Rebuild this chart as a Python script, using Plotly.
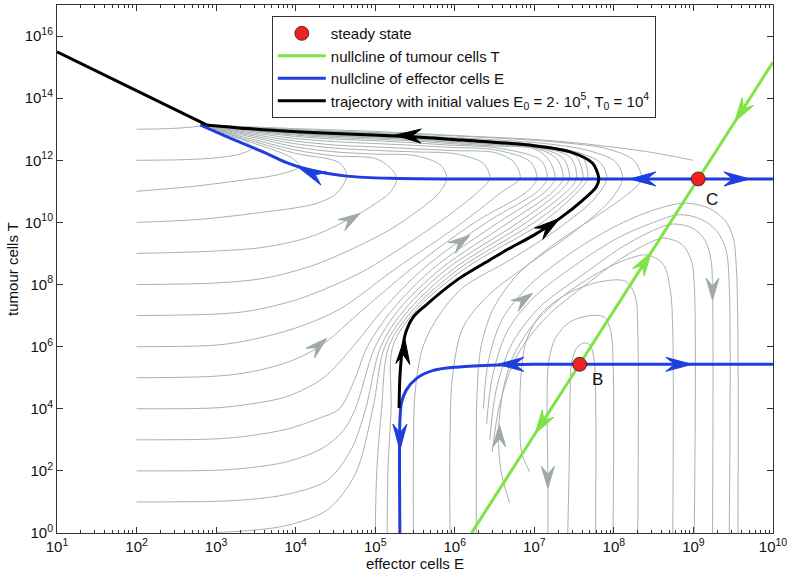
import math
import plotly.graph_objects as go

# ---------------- data (log10 of E and T) ----------------
x_tick_exp = [1, 2, 3, 4, 5, 6, 7, 8, 9, 10]
x_tick_text = ["10<sup>1</sup>", "10<sup>2</sup>", "10<sup>3</sup>", "10<sup>4</sup>", "10<sup>5</sup>",
               "10<sup>6</sup>", "10<sup>7</sup>", "10<sup>8</sup>", "10<sup>9</sup>", "10<sup>10</sup>"]
y_tick_exp = [0, 2, 4, 6, 8, 10, 12, 14, 16]
y_tick_text = ["10<sup>0</sup>", "10<sup>2</sup>", "10<sup>4</sup>", "10<sup>6</sup>", "10<sup>8</sup>",
               "10<sup>10</sup>", "10<sup>12</sup>", "10<sup>14</sup>", "10<sup>16</sup>"]

# steady states B and C
steady_logE = [7.57, 9.06]
steady_logT = [5.43, 11.40]
steady_names = ["B", "C"]
steady_label_shift = [(18, -15), (14, -21)]

# nullcline of tumour cells T (straight line in log-log)
green_logE = [6.21, 10.0]
green_logT = [0.0, 15.16]

# nullcline of effector cells E: upper branch and lower branch
blue_up_logE = [2.80, 3.17, 3.59, 3.87, 4.09, 4.37, 4.64, 5.18, 6.0, 10.0]
blue_up_logT = [13.14, 12.72, 12.27, 11.94, 11.75, 11.59, 11.49, 11.42, 11.40, 11.40]
blue_lo_logE = [5.31, 5.31, 5.33, 5.39, 5.52, 5.72, 6.02, 6.44, 7.0, 10.0]
blue_lo_logT = [0.0, 3.6, 4.2, 4.60, 4.98, 5.23, 5.34, 5.40, 5.43, 5.43]

# trajectory E0 = 2e5, T0 = 1e4
traj_logE = [5.30, 5.31, 5.34, 5.39, 5.48, 5.62, 6.03, 6.44, 6.65, 7.00, 7.32, 7.61, 7.78, 7.81,
             7.73, 7.44, 6.94, 6.10, 5.47, 4.43, 4.02, 3.40, 2.88]
traj_logT = [4.02, 5.0, 5.9, 6.5, 6.96, 7.3, 8.15, 8.79, 9.11, 9.60, 10.13, 10.72, 11.15, 11.43,
             11.91, 12.28, 12.49, 12.65, 12.76, 12.87, 12.92, 13.02, 13.14]
traj_tail_logE = [2.88, 1.0]
traj_tail_logT = [13.14, 15.49]

# grey stream lines (log10 E, log10 T)
s_g13 = ([2.0, 2.4, 2.7, 2.88], [13.0, 13.02, 13.07, 13.14])
s_g12 = ([2.0, 2.6, 3.0, 3.3, 3.45, 3.38, 3.15, 2.88], [12.0, 12.02, 12.08, 12.2, 12.39, 12.6, 12.88, 13.14])
s_g11 = ([2.0, 2.67, 3.3, 3.8, 4.05, 3.95, 3.5, 3.1, 2.88], [11.0, 11.15, 11.35, 11.55, 11.8, 12.08, 12.53, 12.86, 13.14])
s_g10 = ([2.0, 2.8, 3.5, 4.26, 4.52, 4.64, 4.55, 4.0, 3.5, 3.1, 2.88],
         [10.0, 10.1, 10.3, 10.61, 10.95, 11.5, 11.92, 12.22, 12.59, 12.89, 13.14])
s_g9 = ([2.0, 3.0, 3.6, 4.2, 4.72, 5.0, 5.2, 5.27, 5.18, 5.0, 4.5, 4.0, 3.5, 3.1, 2.88],
        [9.0, 9.08, 9.2, 9.55, 10.17, 10.6, 11.0, 11.42, 11.78, 12.06, 12.14, 12.33, 12.65, 12.92, 13.14])
s_g8 = ([2.0, 3.0, 3.6, 4.2, 4.68, 5.18, 5.55, 5.8, 5.90, 5.82, 5.5, 5.0, 4.5, 4.0, 3.5, 3.1, 2.88],
        [8.0, 8.05, 8.2, 8.6, 9.11, 9.76, 10.4, 10.95, 11.42, 11.85, 12.15, 12.2, 12.27, 12.43, 12.72, 12.95, 13.14])
s_g7 = ([2.0, 3.0, 3.42, 4.0, 4.5, 4.9, 5.8, 6.3, 6.44, 6.36, 6.0, 5.5, 5.0, 4.5, 4.0, 3.5, 3.1, 2.88],
        [7.0, 7.05, 7.15, 7.5, 8.0, 8.5, 10.0, 11.0, 11.42, 11.9, 12.21, 12.27, 12.32, 12.39, 12.53, 12.77, 12.98, 13.14])
s_g6 = ([2.0, 3.0, 3.42, 4.0, 4.55, 5.25, 6.1, 6.6, 6.82, 6.74, 6.5, 6.0, 5.5, 5.0, 4.5, 4.0, 3.5, 3.1, 2.88],
        [6.0, 6.05, 6.21, 6.6, 7.2, 8.5, 10.0, 11.0, 11.42, 11.95, 12.25, 12.31, 12.37, 12.43, 12.49, 12.62, 12.82, 13.0, 13.14])
s_g5 = ([2.0, 3.0, 3.42, 3.9, 4.3, 4.85, 5.45, 6.25, 6.91, 7.03, 6.95, 6.5, 6.0, 5.5, 5.0, 4.5, 4.0, 3.5, 3.1, 2.88],
        [5.0, 5.05, 5.18, 5.5, 6.0, 7.2, 8.5, 10.0, 11.0, 11.42, 11.95, 12.34, 12.41, 12.48, 12.54, 12.6, 12.7, 12.87, 13.02, 13.14])
s_g4 = ([2.0, 3.0, 3.42, 3.9, 4.35, 4.72, 5.1, 5.6, 6.4, 7.04, 7.16, 7.08, 6.5, 6.0, 5.5, 5.0, 4.5, 4.0, 3.5, 3.1, 2.88],
        [4.0, 4.03, 4.15, 4.4, 5.0, 6.0, 7.2, 8.5, 10.0, 11.0, 11.42, 12.0, 12.41, 12.48, 12.56, 12.63, 12.68, 12.77, 12.91, 13.04, 13.14])
s_g3 = ([2.0, 3.0, 3.42, 3.9, 4.3, 4.55, 4.75, 4.9, 5.22, 5.72, 6.55, 7.14, 7.26, 7.18, 7.0, 6.5, 6.0, 5.5, 5.0, 4.5, 4.0, 3.5, 3.1, 2.88],
        [3.0, 3.03, 3.13, 3.35, 3.7, 4.0, 5.0, 6.0, 7.2, 8.5, 10.0, 11.0, 11.42, 12.02, 12.37, 12.46, 12.53, 12.62, 12.68, 12.73, 12.81, 12.94, 13.05, 13.14])
s_g2 = ([2.0, 3.0, 3.42, 3.9, 4.35, 4.6, 4.75, 5.0, 5.3, 5.82, 6.68, 7.24, 7.36, 7.28, 7.0, 6.5, 6.0, 5.5, 5.0, 4.5, 4.0, 3.5, 3.1, 2.88],
        [2.0, 2.02, 2.1, 2.3, 2.75, 3.3, 4.0, 6.0, 7.2, 8.5, 10.0, 11.0, 11.42, 12.05, 12.4, 12.5, 12.57, 12.66, 12.72, 12.77, 12.84, 12.96, 13.06, 13.14])
s_g1 = ([2.0, 3.0, 3.42, 3.9, 4.4, 4.7, 4.88, 5.07, 5.37, 5.9, 6.8, 7.32, 7.44, 7.36, 7.0, 6.5, 6.0, 5.5, 5.0, 4.5, 4.0, 3.5, 3.1, 2.88],
        [1.0, 1.02, 1.08, 1.25, 1.7, 2.7, 4.0, 6.0, 7.2, 8.5, 10.0, 11.0, 11.42, 12.07, 12.43, 12.52, 12.6, 12.68, 12.75, 12.79, 12.87, 12.97, 13.07, 13.14])
s_g0 = ([3.0, 3.42, 3.9, 4.4, 4.75, 4.97, 5.12, 5.43, 5.98, 6.9, 7.41, 7.53, 7.45, 7.0, 6.5, 6.0, 5.5, 5.0, 4.5, 4.0, 3.5, 3.1, 2.88],
        [0.02, 0.08, 0.25, 0.75, 1.9, 4.0, 6.0, 7.2, 8.5, 10.0, 11.0, 11.42, 12.1, 12.44, 12.54, 12.62, 12.7, 12.77, 12.81, 12.88, 12.98, 13.07, 13.14])
s_e5a = ([5.0, 5.02, 5.08, 5.17, 5.48, 6.05, 7.0, 7.49, 7.61, 7.53, 7.4, 7.0, 6.5, 6.0, 5.5, 5.0, 4.5, 4.0, 3.5, 3.1, 2.88],
         [0.0, 2.0, 4.0, 6.0, 7.2, 8.5, 10.0, 11.0, 11.42, 12.12, 12.28, 12.45, 12.55, 12.63, 12.72, 12.79, 12.83, 12.89, 12.98, 13.07, 13.14])
s_e5b = ([5.15, 5.16, 5.2, 5.22, 5.52, 6.12, 7.1, 7.55, 7.67, 7.6, 7.4, 7.0, 6.5, 6.0, 5.5, 5.0, 4.5, 4.0, 3.5, 3.1, 2.88],
         [0.0, 2.0, 4.0, 6.0, 7.2, 8.5, 10.0, 11.0, 11.42, 12.14, 12.29, 12.46, 12.56, 12.64, 12.73, 12.8, 12.84, 12.9, 12.99, 13.08, 13.14])
s_m1 = ([5.48, 5.48, 5.5, 5.6, 5.8, 6.1, 6.7, 7.3, 7.75, 7.91, 7.83, 7.55, 7.0, 6.5, 6.0, 5.5, 5.0, 4.5, 4.0, 3.5, 3.1, 2.88],
        [0.0, 2.5, 4.5, 6.0, 7.0, 7.9, 8.8, 9.8, 10.75, 11.42, 11.92, 12.25, 12.51, 12.62, 12.7, 12.79, 12.86, 12.9, 12.95, 13.02, 13.09, 13.14])
s_m2 = ([5.94, 5.94, 5.97, 6.1, 6.4, 6.9, 7.5, 7.95, 8.11, 8.02, 7.7, 7.2, 6.5, 6.0, 5.5, 5.0, 4.5, 4.0, 3.5, 3.1, 2.88],
        [0.0, 3.0, 5.0, 6.6, 7.6, 8.6, 9.7, 10.7, 11.42, 11.95, 12.3, 12.52, 12.66, 12.73, 12.8, 12.87, 12.92, 12.96, 13.04, 13.09, 13.14])
s_m3 = ([6.27, 6.27, 6.28, 6.33, 6.48, 6.78, 7.25, 7.75, 8.12, 8.30, 8.35, 8.25, 7.9, 7.3, 6.5, 5.5, 4.5, 3.5, 2.88],
        [0.0, 2.5, 4.5, 6.0, 7.2, 8.3, 9.3, 10.15, 10.8, 11.2, 11.42, 12.0, 12.38, 12.58, 12.72, 12.84, 12.94, 13.05, 13.14])
s_sad = ([8.99, 8.7, 8.41, 8.0, 7.57, 7.0, 6.0, 5.0, 4.0, 3.4, 2.88],
         [12.0, 12.15, 12.28, 12.42, 12.55, 12.67, 12.8, 12.93, 13.02, 13.08, 13.14])
s_a1 = ([6.36, 6.42, 6.6, 6.95, 7.45, 8.0, 8.5, 8.9, 9.2, 9.40, 9.50, 9.54, 9.56, 9.56],
        [4.0, 5.5, 6.9, 8.0, 9.0, 9.85, 10.4, 10.62, 10.45, 10.05, 9.5, 8.5, 6.0, 0.0])
s_a2 = ([6.40, 6.47, 6.66, 7.0, 7.5, 8.05, 8.5, 8.82, 9.1, 9.3, 9.41, 9.45, 9.45],
        [3.5, 5.0, 6.5, 7.6, 8.6, 9.5, 10.0, 10.25, 10.1, 9.7, 9.1, 8.0, 0.0])
s_a3 = ([6.44, 6.52, 6.72, 7.08, 7.6, 8.1, 8.5, 8.74, 9.0, 9.15, 9.22, 9.24, 9.24],
        [3.0, 4.6, 6.1, 7.3, 8.3, 9.2, 9.75, 9.95, 9.8, 9.4, 8.8, 7.8, 0.0])
s_a4 = ([6.47, 6.57, 6.78, 7.15, 7.65, 8.1, 8.45, 8.62, 8.85, 8.97, 9.01, 9.01],
        [2.6, 4.2, 5.7, 6.95, 8.0, 8.85, 9.35, 9.5, 9.3, 8.8, 8.0, 0.0])
s_b4 = ([6.69, 6.58, 6.55, 6.6, 6.72, 6.95, 7.3, 7.75, 8.15, 8.42, 8.62, 8.71, 8.74, 8.74],
        [0.97, 2.0, 3.2, 4.5, 5.6, 6.6, 7.5, 8.3, 8.8, 8.95, 8.65, 7.8, 6.5, 0.0])
s_b3 = ([6.94, 6.84, 6.82, 6.83, 6.9, 7.1, 7.45, 7.85, 8.15, 8.27, 8.30, 8.30],
        [1.97, 2.6, 3.6, 5.0, 6.2, 7.1, 7.75, 8.1, 8.1, 7.6, 6.5, 0.0])
s_b2 = ([7.17, 7.17, 7.16, 7.18, 7.27, 7.45, 7.7, 7.88, 7.96, 7.99, 7.99],
        [0.0, 2.0, 4.0, 5.5, 6.3, 6.8, 7.0, 6.95, 6.5, 5.5, 0.0])
s_b1 = ([7.42, 7.44, 7.45, 7.47, 7.53, 7.62, 7.70, 7.75, 7.77, 7.77],
        [0.0, 2.5, 4.5, 5.5, 5.95, 6.12, 6.05, 5.6, 4.5, 0.0])

grey_lines = [s_g13, s_g12, s_g11, s_g10, s_g9, s_g8, s_g7, s_g6, s_g5, s_g4, s_g3, s_g2, s_g1, s_g0,
              s_e5a, s_e5b, s_m1, s_m2, s_m3, s_sad, s_a1, s_a2, s_a3, s_a4, s_b4, s_b3, s_b2, s_b1]

# arrow heads: (log10 E, log10 T of the tip, direction in degrees on screen, colour key)
arrows = [
    (4.05, 11.74, 157, "blue"), (8.20, 11.40, 180, "blue"), (9.71, 11.40, 0, "blue"),
    (6.54, 5.43, 180, "blue"), (8.98, 5.43, 0, "blue"), (5.31, 2.67, 270, "blue"),
    (9.52, 13.24, 237, "green"), (8.47, 9.04, 57, "green"), (7.01, 3.20, 237, "green"),
    (5.37, 6.28, 86, "black"), (7.32, 10.13, 36, "black"), (5.25, 12.81, 178, "black"),
    (4.81, 10.29, 32, "grey"), (4.39, 6.27, 42, "grey"), (6.19, 9.59, 35, "grey"),
    (6.98, 7.72, 35, "grey"), (9.24, 7.5, 270, "grey"), (6.56, 3.48, 90, "grey"),
    (7.17, 1.44, 270, "grey"),
]

# ---------------- styling ----------------
C_GREY = "#a9b1b1"
C_BLUE = "#1f3ee0"
C_GREEN = "#7fe347"
C_BLACK = "#000000"
C_RED = "#ee2222"
FONT = "Liberation Sans, Arial, Helvetica, sans-serif"

W, H = 792, 578
M_L, M_R, M_T, M_B = 57, 19, 5, 45
X_RANGE = [1, 10]
Y_RANGE = [0, 17]
PX_PER_DEC_X = (W - M_L - M_R) / (X_RANGE[1] - X_RANGE[0])
PX_PER_DEC_Y = (H - M_T - M_B) / (Y_RANGE[1] - Y_RANGE[0])


def pw(vals):
    return [10 ** v for v in vals]


def arrow_polygon(le, lt, ang, length, half_w, notch):
    """stealth-shaped arrow head outline in log units, tip at (le, lt)"""
    a = math.radians(ang)
    dx, dy = math.cos(a), math.sin(a)
    nx, ny = -dy, dx
    pts_px = [(0, 0),
              (-length * dx + half_w * nx, -length * dy + half_w * ny),
              (-notch * length * dx, -notch * length * dy),
              (-length * dx - half_w * nx, -length * dy - half_w * ny),
              (0, 0)]
    xs = [10 ** (le + px / PX_PER_DEC_X) for px, py in pts_px]
    ys = [10 ** (lt + py / PX_PER_DEC_Y) for px, py in pts_px]
    return xs, ys


fig = go.Figure()

for e, t in grey_lines:
    fig.add_trace(go.Scatter(x=pw(e), y=pw(t), mode="lines", showlegend=False, hoverinfo="skip",
                             line=dict(color=C_GREY, width=1, shape="spline", smoothing=0.9)))

fig.add_trace(go.Scatter(x=pw(blue_up_logE), y=pw(blue_up_logT), mode="lines", showlegend=False,
                         line=dict(color=C_BLUE, width=3, shape="spline", smoothing=0.8)))
fig.add_trace(go.Scatter(x=pw(blue_lo_logE), y=pw(blue_lo_logT), mode="lines",
                         name="nullcline of effector cells E", legendrank=3,
                         line=dict(color=C_BLUE, width=3, shape="spline", smoothing=0.8)))
fig.add_trace(go.Scatter(x=pw(green_logE), y=pw(green_logT), mode="lines",
                         name="nullcline of tumour cells T", legendrank=2,
                         line=dict(color=C_GREEN, width=3)))
fig.add_trace(go.Scatter(x=pw(traj_logE), y=pw(traj_logT), mode="lines",
                         name="trajectory with initial values E<sub>0</sub> = 2· 10<sup>5</sup>, T<sub>0</sub> = 10<sup>4</sup>",
                         legendrank=4,
                         line=dict(color=C_BLACK, width=3, shape="spline", smoothing=0.8)))
fig.add_trace(go.Scatter(x=pw(traj_tail_logE), y=pw(traj_tail_logT), mode="lines", showlegend=False,
                         line=dict(color=C_BLACK, width=3)))

colmap = {"blue": (C_BLUE, 26, 7.0, 0.66), "green": (C_GREEN, 24, 7.0, 0.66),
          "black": (C_BLACK, 26, 7.0, 0.66), "grey": ("#9fa9a9", 22, 6.5, 0.64)}
for le, lt, ang, ck in arrows:
    col, L, hw, notch = colmap[ck]
    xs, ys = arrow_polygon(le, lt, ang, L, hw, notch)
    fig.add_trace(go.Scatter(x=xs, y=ys, mode="lines", fill="toself", fillcolor=col,
                             line=dict(color=col, width=1), showlegend=False, hoverinfo="skip"))

fig.add_trace(go.Scatter(x=pw(steady_logE), y=pw(steady_logT), mode="markers", name="steady state",
                         legendrank=1,
                         marker=dict(size=14, color=C_RED, line=dict(color="#222222", width=0.8))))

# invisible trace on the minor-tick axis so that it renders
fig.add_trace(go.Scatter(x=[10, 1e10], y=[1, 1e17], xaxis="x2", yaxis="y", mode="markers",
                         marker=dict(opacity=0), showlegend=False, hoverinfo="skip"))

annotations = []
for le, lt, nm, (sx, sy) in zip(steady_logE, steady_logT, steady_names, steady_label_shift):
    annotations.append(dict(x=le, y=lt, xref="x", yref="y", text=nm, showarrow=False,
                            xshift=sx, yshift=sy, font=dict(size=17, color="#111111", family=FONT)))

minor_vals = [m * 10 ** d for d in range(1, 10) for m in range(2, 10)]

axis_common = dict(type="log", showgrid=False, zeroline=False, showline=True, linecolor="#333333",
                   linewidth=1, ticks="inside", tickcolor="#333333", mirror="ticks", automargin=False)

fig.update_layout(
    width=W, height=H,
    margin=dict(l=M_L, r=M_R, t=M_T, b=M_B),
    paper_bgcolor="white", plot_bgcolor="white",
    font=dict(family=FONT, size=15, color="#111111"),
    xaxis=dict(range=X_RANGE, tickvals=pw(x_tick_exp), ticktext=x_tick_text, ticklen=6,
               tickfont=dict(size=15),
               title=dict(text="effector cells E", standoff=0, font=dict(size=15)), **axis_common),
    xaxis2=dict(range=X_RANGE, overlaying="x", anchor="y", side="bottom", tickvals=minor_vals,
                showticklabels=False, ticklen=3, **axis_common),
    yaxis=dict(range=Y_RANGE, tickvals=pw(y_tick_exp), ticktext=y_tick_text, ticklen=6,
               tickfont=dict(size=15),
               title=dict(text="tumour cells T", standoff=2, font=dict(size=15)), **axis_common),
    legend=dict(x=0.300, y=0.979, xanchor="left", yanchor="top", bgcolor="white",
                bordercolor="#333333", borderwidth=1, font=dict(size=15, family=FONT),
                tracegroupgap=0, itemwidth=48),
    annotations=annotations,
    showlegend=True,
)

fig.write_html("out.html", config={"displayModeBar": False},
               post_script="document.body.style.margin='0px';")
